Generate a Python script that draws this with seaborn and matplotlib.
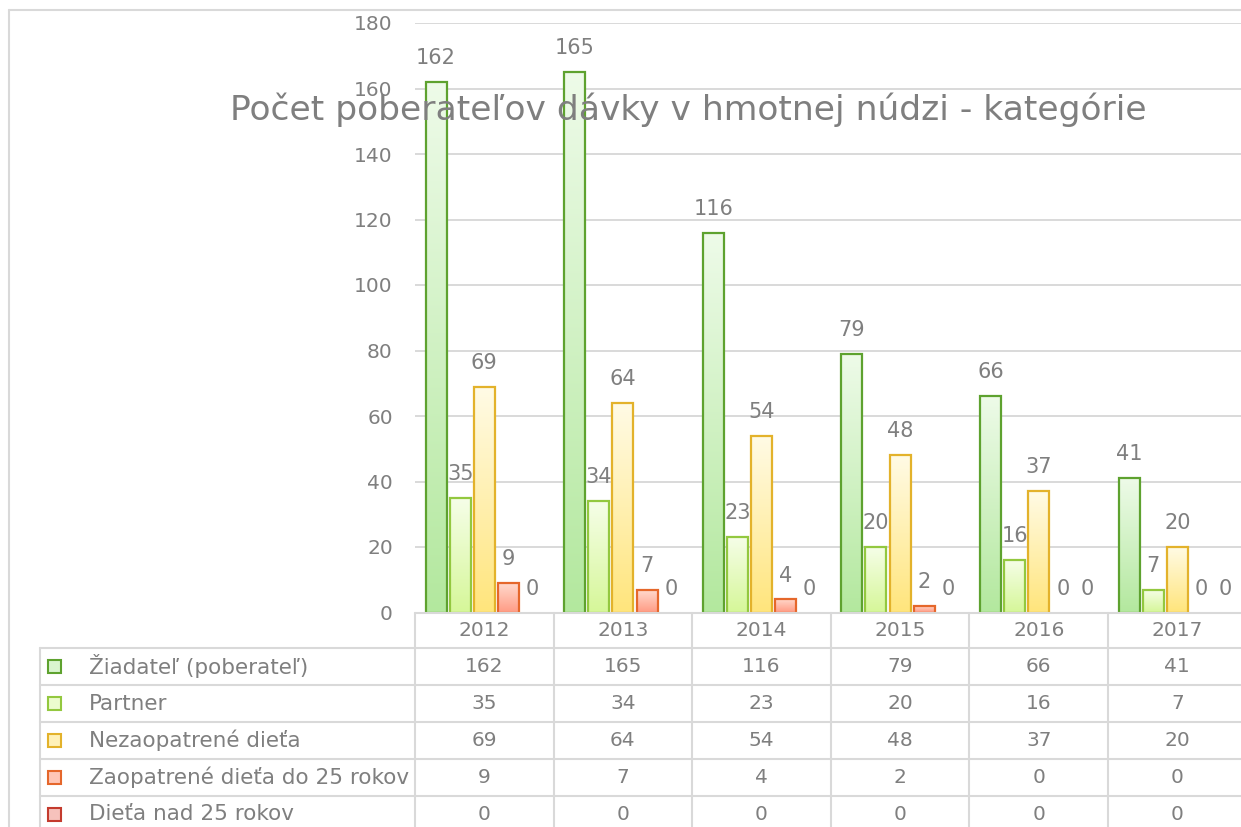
import numpy as np
import pandas as pd
import matplotlib
matplotlib.use("Agg")
import matplotlib.pyplot as plt
import seaborn as sns
from matplotlib.colors import LinearSegmentedColormap
from matplotlib.patches import Rectangle
from matplotlib.lines import Line2D
from matplotlib.transforms import blended_transform_factory

# Dáta z grafu
years = ["2012", "2013", "2014", "2015", "2016", "2017"]
categories = [
    "Žiadateľ (poberateľ)",
    "Partner",
    "Nezaopatrené dieťa",
    "Zaopatrené dieťa do 25 rokov",
    "Dieťa nad 25 rokov",
]
ziadatel = [162, 165, 116, 79, 66, 41]
partner = [35, 34, 23, 20, 16, 7]
nezaopatrene = [69, 64, 54, 48, 37, 20]
zaopatrene = [9, 7, 4, 2, 0, 0]
nad25 = [0, 0, 0, 0, 0, 0]
series = [ziadatel, partner, nezaopatrene, zaopatrene, nad25]

title = "Počet poberateľov dávky v hmotnej núdzi - kategórie"

# farby: okraj, vrch prechodu, spodok prechodu
edge_colors = ["#5ea22f", "#93c83f", "#e3b22b", "#e5672b", "#c43b2e"]
top_colors = ["#eefbe9", "#f6fee9", "#fffbe6", "#ffdcd0", "#f9d2cc"]
bottom_colors = ["#b3e89e", "#d6f799", "#ffe57c", "#ff9c85", "#f09388"]
key_colors = ["#d9f5cf", "#ecfcce", "#fff1b8", "#ffc6b6", "#f6c2bc"]

TEXT = "#7f7f7f"
GRID = "#d9d9d9"

W, H = 1241, 827
df = pd.DataFrame(
    [(y, c, v) for c, vals in zip(categories, series) for y, v in zip(years, vals)],
    columns=["rok", "kategoria", "pocet"],
)

sns.set_theme(style="white")
plt.rcParams["font.family"] = ["DejaVu Sans"]

fig = plt.figure(figsize=(W / 100, H / 100), dpi=100)


def fx(x):
    return x / W


def fy(y):
    return 1 - y / H


ax_left, ax_right, ax_top, ax_bottom = 415, 1246.6, 23, 612.5
ax = fig.add_axes([fx(ax_left), fy(ax_bottom), fx(ax_right - ax_left), (ax_bottom - ax_top) / H])

sns.barplot(
    data=df, x="rok", y="pocet", hue="kategoria", order=years, hue_order=categories,
    palette=edge_colors, width=0.87, gap=0.13, legend=False, ax=ax, zorder=3,
)

ax.set_xlim(-0.5, 5.5)
ax.set_ylim(0, 180)
ax.set_yticks(range(0, 181, 20))
ax.yaxis.grid(True, color=GRID, linewidth=1.4, zorder=0)
ax.set_axisbelow(True)
for s in ax.spines.values():
    s.set_visible(False)
ax.set_xticks([])
ax.set_xlabel("")
ax.set_ylabel("")
ax.tick_params(axis="y", length=0, pad=16, labelsize=14.5, labelcolor=TEXT)

# prechodové výplne stĺpcov
grad = np.linspace(0, 1, 256).reshape(-1, 1)
for i, cont in enumerate(ax.containers):
    cmap = LinearSegmentedColormap.from_list(f"g{i}", [bottom_colors[i], top_colors[i]])
    for bar in cont:
        h = bar.get_height()
        bar.set_facecolor("none")
        bar.set_edgecolor(edge_colors[i])
        bar.set_linewidth(1.6 if h > 0 else 0)
        bar.set_zorder(4)
        if h > 0:
            x0, w = bar.get_x(), bar.get_width()
            im = ax.imshow(grad, extent=[x0, x0 + w, 0, h], origin="lower", cmap=cmap,
                           aspect="auto", zorder=3, interpolation="bilinear")
            im.set_clip_path(bar)
    ax.bar_label(cont, labels=[str(int(b.get_height())) for b in cont], padding=10,
                 fontsize=15, color=TEXT)

ax.set_xlim(-0.5, 5.5)
ax.set_ylim(0, 180)

# nadpis
fig.text(fx(688), fy(110), title, ha="center", va="center", fontsize=24.8, color=TEXT)

# orámovanie grafu
fig.add_artist(Line2D([fx(9), fx(9)], [fy(10), fy(H + 5)], color=GRID, linewidth=1.5))
fig.add_artist(Line2D([fx(9), fx(W + 5)], [fy(10), fy(10)], color=GRID, linewidth=1.5))

# tabuľka údajov
tr = blended_transform_factory(ax.transData, fig.transFigure)
row_lines = [648, 685, 722, 759, 796, 833]
header_y = 630.5

for k in range(7):
    ax.add_line(Line2D([k - 0.5, k - 0.5], [fy(ax_bottom), fy(H + 5)], transform=tr,
                       color=GRID, linewidth=1.5, clip_on=False))
fig.add_artist(Line2D([fx(40), fx(40)], [fy(648), fy(H + 5)], color=GRID, linewidth=1.5))
fig.add_artist(Line2D([fx(ax_left), fx(W + 5)], [fy(ax_bottom), fy(ax_bottom)], color=GRID, linewidth=1.5))
for ly in row_lines[:-1]:
    fig.add_artist(Line2D([fx(40), fx(W + 5)], [fy(ly), fy(ly)], color=GRID, linewidth=1.5))

for j, yr in enumerate(years):
    ax.text(j, fy(header_y), yr, transform=tr, ha="center", va="center",
            fontsize=14.5, color=TEXT, clip_on=False)

for i, (cat, vals) in enumerate(zip(categories, series)):
    cy = (row_lines[i] + row_lines[i + 1]) / 2
    fig.add_artist(Rectangle((fx(48), fy(cy + 6.5)), fx(13), 13 / H,
                             facecolor=key_colors[i], edgecolor=edge_colors[i], linewidth=1.5))
    fig.text(fx(89), fy(cy), cat, ha="left", va="center", fontsize=15.5, color=TEXT)
    for j, v in enumerate(vals):
        ax.text(j, fy(cy), str(v), transform=tr, ha="center", va="center",
                fontsize=14.5, color=TEXT, clip_on=False)

fig.savefig("out.png", dpi=100, facecolor="white")
